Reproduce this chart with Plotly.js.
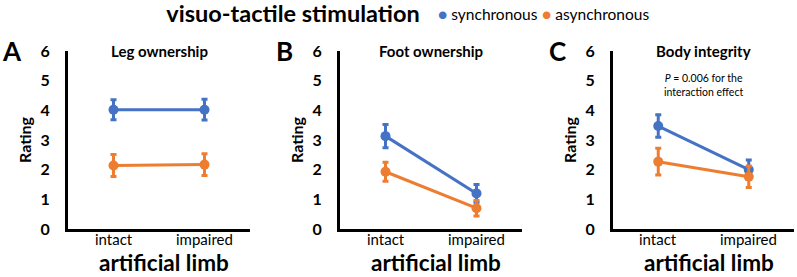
<!DOCTYPE html>
<html>
<head>
<meta charset="utf-8">
<script src="https://cdn.plot.ly/plotly-3.0.1.min.js"></script>
<style>html,body{margin:0;padding:0;background:#fff}#chart{width:797px;height:277px}</style>
</head>
<body>
<div id="chart"></div>
<script>
// Categories and tick labels
const conditions = ["intact", "impaired"];
const yTicks = [0, 1, 2, 3, 4, 5, 6];

// Panel titles and letters
const panelTitles = ["Leg ownership", "Foot ownership", "Body integrity"];
const panelLetters = ["A", "B", "C"];

// Series names
const seriesNames = ["synchronous", "asynchronous"];

// Mean ratings (synchronous / asynchronous) per panel
const legSync = [4.02, 4.02];
const legAsync = [2.14, 2.17];
const footSync = [3.13, 1.2];
const footAsync = [1.93, 0.7];
const bodySync = [3.47, 2.0];
const bodyAsync = [2.27, 1.76];

// Error bar half-widths
const legSyncErr = [0.34, 0.35];
const legAsyncErr = [0.37, 0.37];
const footSyncErr = [0.39, 0.3];
const footAsyncErr = [0.32, 0.26];
const bodySyncErr = [0.38, 0.33];
const bodyAsyncErr = [0.45, 0.36];

const BLUE = "#4472C4";
const ORANGE = "#ED7D31";
const FONT = "Lato, 'Open Sans', sans-serif";

function series(y, err, color, ax) {
  return {
    x: conditions, y: y, xaxis: "x" + ax, yaxis: "y" + ax,
    type: "scatter", mode: "lines+markers", showlegend: false,
    line: {color: color, width: 3},
    marker: {color: color, size: 10},
    error_y: {type: "data", array: err, visible: true, color: color, thickness: 3, width: 3}
  };
}

const traces = [
  series(legSync, legSyncErr, BLUE, ""),
  series(legAsync, legAsyncErr, ORANGE, ""),
  series(footSync, footSyncErr, BLUE, "2"),
  series(footAsync, footAsyncErr, ORANGE, "2"),
  series(bodySync, bodySyncErr, BLUE, "3"),
  series(bodyAsync, bodyAsyncErr, ORANGE, "3")
];

const W = 797, H = 277;
const domainsX = [[68 / W, 250 / W], [340 / W, 522 / W], [613 / W, 794 / W]];
const yDom = [1 - 229 / H, 1 - 51 / H];

function xAxis(d, anchor) {
  return {
    domain: d, anchor: anchor, type: "category", range: [-0.5, 1.5],
    showline: true, linecolor: "#000", linewidth: 3, showgrid: false, zeroline: false,
    ticks: "", showticklabels: false
  };
}
function yAxis(anchor) {
  return {
    domain: yDom, anchor: anchor, range: [0, 6], tickvals: yTicks,
    ticktext: yTicks.map(v => "<b>" + v + "</b>"),
    showline: true, linecolor: "#000", linewidth: 3, showgrid: false, zeroline: false,
    ticks: "", ticklabelstandoff: 12,
    tickfont: {family: FONT, size: 16, color: "#000"},
    title: {text: "<b>Rating</b>", font: {family: FONT, size: 16, color: "#000"}, standoff: 5}
  };
}

const axisIds = ["x", "x2", "x3"];
const annotations = [];
domainsX.forEach((d, i) => {
  const mid = (d[0] + d[1]) / 2;
  annotations.push({
    text: "<b>" + panelTitles[i] + "</b>", xref: "paper", yref: "paper",
    x: mid, y: 1 - 51 / H, xanchor: "center", yanchor: "middle",
    showarrow: false, font: {family: FONT, size: 15, color: "#000"}
  });
  annotations.push({
    text: "<b>" + panelLetters[i] + "</b>", xref: "paper", yref: "paper",
    x: d[0] - 56 / W, y: 1 - 51 / H, xanchor: "center", yanchor: "middle",
    showarrow: false, font: {family: FONT, size: 26, color: "#000"}
  });
  // category labels under the x axis, placed on the axis' own category scale
  conditions.forEach(cat => {
    annotations.push({
      text: cat, xref: axisIds[i], yref: "paper", x: cat, y: 1 - 239 / H,
      xanchor: "center", yanchor: "middle", borderpad: 0, showarrow: false,
      font: {family: FONT, size: 15, color: "#000"}
    });
  });
  // x-axis title
  annotations.push({
    text: "<b>artificial limb</b>", xref: "paper", yref: "paper",
    x: mid + 5 / W, y: 0, xanchor: "center", yanchor: "bottom", borderpad: 0,
    showarrow: false, font: {family: FONT, size: 22.5, color: "#000"}
  });
});
annotations.push({
  text: "<i>P</i> = 0.006 for the<br>interaction effect", xref: "paper", yref: "paper",
  x: 703 / W, y: 1 - 85 / H, xanchor: "center", yanchor: "middle", align: "center",
  showarrow: false, font: {family: FONT, size: 10.5, color: "#000"}
});

// Legend: coloured dot followed by the series name
[[BLUE, 437], [ORANGE, 541]].forEach(([c, px], i) => {
  annotations.push({
    text: '<span style="color:' + c + '">●</span> ' + seriesNames[i],
    xref: "paper", yref: "paper", x: px / W, y: 1 - 14 / H,
    xanchor: "left", yanchor: "middle", showarrow: false, borderpad: 0,
    font: {family: FONT, size: 15.5, color: "#000"}
  });
});

const layout = {
  width: W, height: H,
  margin: {l: 0, r: 0, t: 0, b: 0},
  paper_bgcolor: "#fff", plot_bgcolor: "#fff",
  title: {text: "<b>visuo-tactile stimulation</b>", x: 293 / W, xanchor: "center",
          y: 1 - 14 / H, yanchor: "middle", font: {family: FONT, size: 23.5, color: "#000"}},
  showlegend: false,
  xaxis: xAxis(domainsX[0], "y"), yaxis: yAxis("x"),
  xaxis2: xAxis(domainsX[1], "y2"), yaxis2: yAxis("x2"),
  xaxis3: xAxis(domainsX[2], "y3"), yaxis3: yAxis("x3"),
  annotations: annotations
};

Plotly.newPlot("chart", traces, layout, {displayModeBar: false, staticPlot: true});
</script>
</body>
</html>
